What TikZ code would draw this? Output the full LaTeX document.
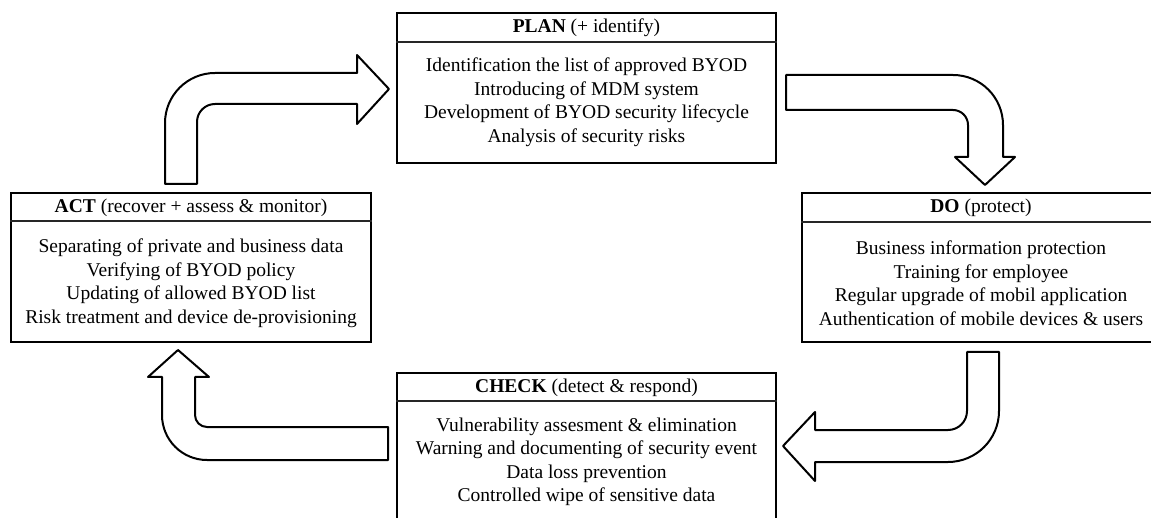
\documentclass[tikz,border=0pt]{standalone}
\usepackage{fontspec}
\setmainfont{Liberation Serif}
\begin{document}
\begin{tikzpicture}[x=1pt,y=-1pt,
  boxstyle/.style={draw=black,line width=2pt,inner sep=0pt,fill=white},
  sepline/.style={line width=1.2pt,draw=black!85},
  hdr/.style={inner sep=0pt,font=\fontsize{19.5}{23}\selectfont},
  bodytext/.style={inner sep=0pt,align=center,font=\fontsize{19.5}{23.5}\selectfont},
  blockarrow/.style={draw=black,line width=2pt,fill=white,line join=round}]
\useasboundingbox (0,0) rectangle (1151,518);

% boxes
\node[boxstyle,minimum width=379pt,minimum height=150pt] (plan) at (586.5,88) {};
\node[boxstyle,minimum width=370pt,minimum height=149pt] (do) at (987,267.5) {};
\node[boxstyle,minimum width=360pt,minimum height=149pt] (act) at (191,267.5) {};
\node[boxstyle,minimum width=379pt,minimum height=149pt] (check) at (586.5,447.5) {};

% header separators
\draw[sepline] ([yshift=-30pt]plan.north west) -- ([yshift=-30pt]plan.north east);
\draw[sepline] ([yshift=-30pt]do.north west) -- ([yshift=-30pt]do.north east);
\draw[sepline] ([yshift=-29pt]act.north west) -- ([yshift=-29pt]act.north east);
\draw[sepline] ([yshift=-29pt]check.north west) -- ([yshift=-29pt]check.north east);

% headers
\node[hdr] (planh) at (586.5,28) {\textbf{PLAN} (+ identify)};
\node[hdr] (doh) at (981,208) {\textbf{DO} (protect)};
\node[hdr] (acth) at (191,207.5) {\textbf{ACT} (recover + assess \& monitor)};
\node[hdr] (checkh) at (586.5,387.5) {\textbf{CHECK} (detect \& respond)};

% bodies
\node[bodytext] (planb) at (586.5,102) {Identification the list of approved BYOD\\Introducing of MDM system\\Development of BYOD security lifecycle\\Analysis of security risks};
\node[bodytext] (dob) at (981,283) {Business information protection\\Training for employee\\Regular upgrade of mobil application\\Authentication of mobile devices \& users};
\node[bodytext] (actb) at (191,283) {Separating of private and business data\\Verifying of BYOD policy\\Updating of allowed BYOD list\\Risk treatment and device de-provisioning};
\node[bodytext] (checkb) at (586.5,462) {Vulnerability assesment \& elimination\\Warning and documenting of security event\\Data loss prevention\\Controlled wipe of sensitive data};

% block arrows
% ACT -> PLAN
\draw[blockarrow] (165,184) -- (165,123) arc(180:270:50) -- (357,73) -- (357,55) -- (389,89) -- (357,124) -- (357,104) -- (215,104) arc(270:180:18) -- (197,184) -- cycle;
% PLAN -> DO
\draw[blockarrow] (786,75) -- (953,75) arc(270:360:50) -- (1003,157) -- (1015,157) -- (985,185) -- (955,157) -- (968,157) -- (968,125) arc(0:-90:15) -- (786,110) -- cycle;
% DO -> CHECK
\draw[blockarrow] (967,352) -- (999,352) -- (999,411) arc(0:90:51) -- (815,462) -- (815,481) -- (783,446) -- (815,412) -- (815,430) -- (948,430) arc(90:0:19) -- cycle;
% CHECK -> ACT
\draw[blockarrow] (388,427) -- (207,427) arc(90:180:12) -- (195,377) -- (209,377) -- (178,350) -- (148,377) -- (162,377) -- (162,415) arc(180:90:45) -- (388,460) -- cycle;
\end{tikzpicture}
\end{document}
